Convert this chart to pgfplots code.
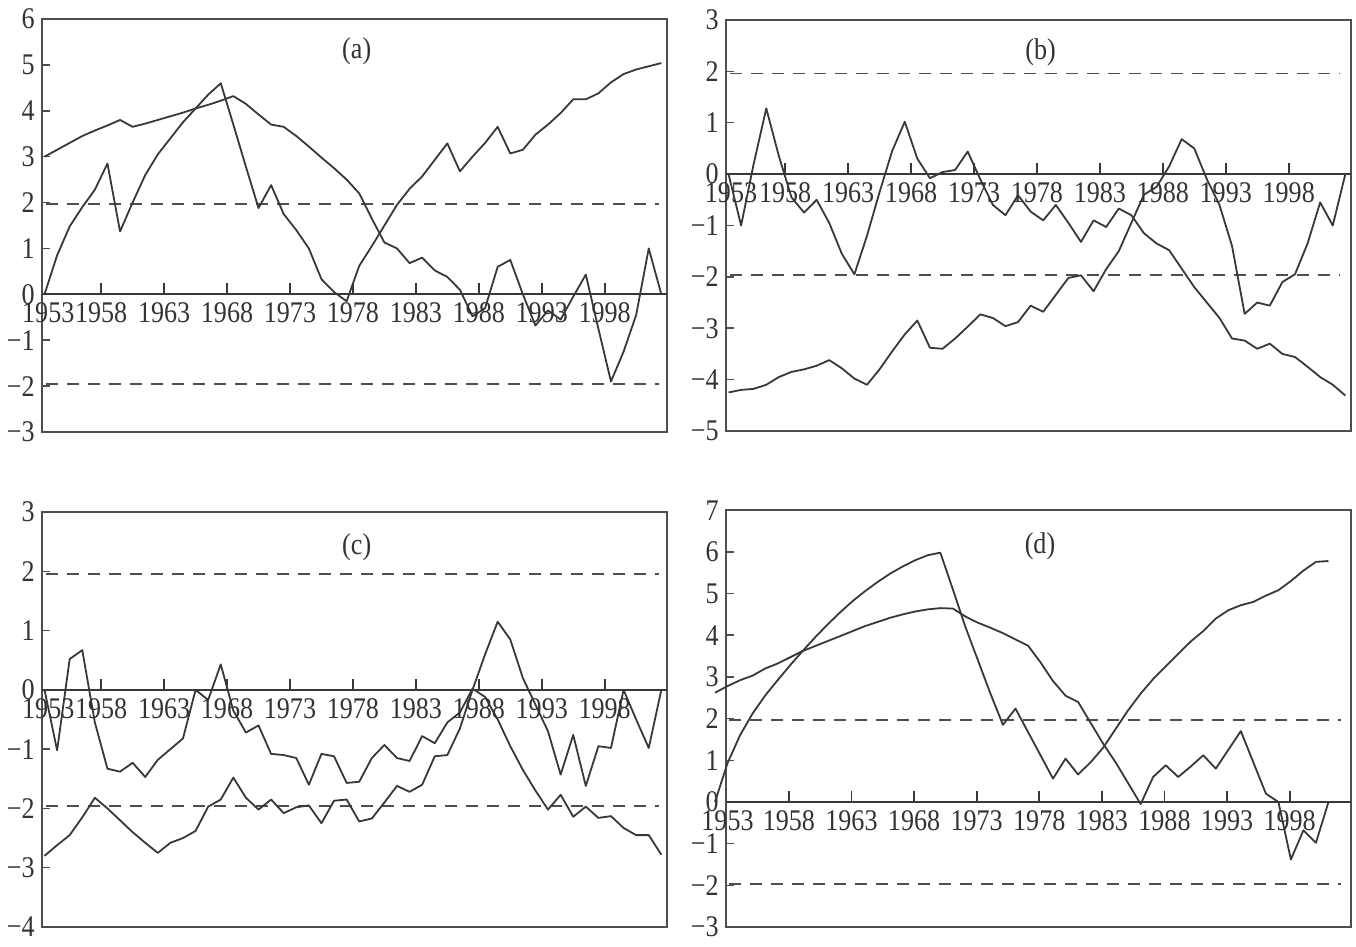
\documentclass[border=0pt]{standalone}
\usepackage{fontspec}
\setmainfont{Liberation Serif}
\newfontfamily\tkfont[FakeStretch=0.87]{Liberation Serif}
\usepackage{pgfplots}
\usepackage{pgfplotstable}
\pgfplotsset{compat=1.18}
\definecolor{linec}{HTML}{383838}
\definecolor{boxc}{HTML}{4E4E4E}
\definecolor{txtc}{HTML}{333333}
\newcommand\fs{\tkfont\fontsize{15}{17}\selectfont}

\pgfplotstableread{
year uf ub
1953 0.00 3.00
1954 0.85 3.15
1955 1.48 3.30
1956 1.90 3.45
1957 2.28 3.57
1958 2.85 3.68
1959 1.37 3.80
1960 2.00 3.65
1961 2.60 3.72
1962 3.05 3.80
1963 3.40 3.88
1964 3.75 3.96
1965 4.05 4.05
1966 4.35 4.13
1967 4.60 4.22
1968 3.70 4.32
1969 2.78 4.15
1970 1.88 3.92
1971 2.38 3.70
1972 1.75 3.65
1973 1.40 3.45
1974 1.00 3.22
1975 0.33 2.98
1976 0.05 2.75
1977 -0.15 2.50
1978 0.62 2.20
1979 1.05 1.65
1980 1.50 1.13
1981 1.95 1.00
1982 2.30 0.68
1983 2.57 0.80
1984 2.93 0.52
1985 3.29 0.38
1986 2.68 0.10
1987 3.00 -0.48
1988 3.30 -0.30
1989 3.65 0.60
1990 3.07 0.75
1991 3.15 0.00
1992 3.48 -0.68
1993 3.70 -0.35
1994 3.95 -0.55
1995 4.25 -0.05
1996 4.25 0.43
1997 4.38 -0.75
1998 4.62 -1.90
1999 4.80 -1.25
2000 4.90 -0.45
2001 4.97 1.00
2002 5.04 0.00
}\dataA

\pgfplotstableread{
year uf ub
1953 0.00 -4.25
1954 -1.00 -4.20
1955 0.20 -4.18
1956 1.28 -4.10
1957 0.35 -3.95
1958 -0.45 -3.85
1959 -0.75 -3.80
1960 -0.50 -3.73
1961 -0.95 -3.62
1962 -1.55 -3.78
1963 -1.95 -3.98
1964 -1.20 -4.10
1965 -0.35 -3.80
1966 0.45 -3.45
1967 1.02 -3.12
1968 0.30 -2.85
1969 -0.08 -3.38
1970 0.04 -3.40
1971 0.08 -3.20
1972 0.44 -2.97
1973 -0.10 -2.73
1974 -0.60 -2.80
1975 -0.80 -2.96
1976 -0.41 -2.88
1977 -0.73 -2.56
1978 -0.90 -2.68
1979 -0.60 -2.35
1980 -0.95 -2.02
1981 -1.32 -1.97
1982 -0.90 -2.28
1983 -1.03 -1.85
1984 -0.67 -1.50
1985 -0.80 -0.95
1986 -1.15 -0.40
1987 -1.35 -0.25
1988 -1.48 0.15
1989 -1.84 0.68
1990 -2.20 0.50
1991 -2.50 -0.10
1992 -2.80 -0.60
1993 -3.20 -1.40
1994 -3.24 -2.72
1995 -3.40 -2.50
1996 -3.30 -2.56
1997 -3.50 -2.10
1998 -3.56 -1.95
1999 -3.75 -1.35
2000 -3.95 -0.55
2001 -4.10 -1.00
2002 -4.31 0.00
}\dataB

\pgfplotstableread{
year uf ub
1953 0.00 -2.80
1954 -1.02 -2.62
1955 0.52 -2.45
1956 0.67 -2.15
1957 -0.55 -1.82
1958 -1.33 -2.00
1959 -1.38 -2.20
1960 -1.23 -2.40
1961 -1.47 -2.58
1962 -1.18 -2.75
1963 -1.00 -2.58
1964 -0.82 -2.50
1965 0.00 -2.38
1966 -0.17 -1.97
1967 0.43 -1.85
1968 -0.35 -1.48
1969 -0.72 -1.82
1970 -0.60 -2.02
1971 -1.08 -1.85
1972 -1.10 -2.08
1973 -1.15 -1.98
1974 -1.60 -1.95
1975 -1.08 -2.25
1976 -1.12 -1.87
1977 -1.57 -1.85
1978 -1.55 -2.22
1979 -1.15 -2.17
1980 -0.93 -1.90
1981 -1.15 -1.62
1982 -1.20 -1.72
1983 -0.78 -1.60
1984 -0.90 -1.12
1985 -0.55 -1.10
1986 -0.38 -0.65
1987 0.02 0.00
1988 -0.12 0.60
1989 -0.50 1.15
1990 -0.95 0.85
1991 -1.35 0.20
1992 -1.70 -0.25
1993 -2.02 -0.70
1994 -1.77 -1.43
1995 -2.14 -0.76
1996 -1.97 -1.62
1997 -2.16 -0.95
1998 -2.13 -0.98
1999 -2.33 0.00
2000 -2.45 -0.50
2001 -2.45 -0.98
2002 -2.78 0.00
}\dataC

\pgfplotstableread{
year uf ub
1953 0.00 2.62
1954 0.93 2.78
1955 1.60 2.92
1956 2.12 3.03
1957 2.55 3.20
1958 2.92 3.32
1959 3.28 3.47
1960 3.62 3.62
1961 3.95 3.74
1962 4.26 3.86
1963 4.55 3.98
1964 4.82 4.10
1965 5.06 4.22
1966 5.28 4.32
1967 5.48 4.42
1968 5.65 4.50
1969 5.80 4.57
1970 5.92 4.62
1971 5.98 4.65
1972 5.10 4.64
1973 4.20 4.45
1974 3.40 4.30
1975 2.60 4.18
1976 1.85 4.05
1977 2.24 3.90
1978 1.68 3.75
1979 1.12 3.35
1980 0.56 2.90
1981 1.04 2.55
1982 0.66 2.40
1983 0.95 1.90
1984 1.30 1.40
1985 1.75 0.95
1986 2.20 0.45
1987 2.60 -0.05
1988 2.95 0.60
1989 3.25 0.88
1990 3.55 0.60
1991 3.85 0.85
1992 4.10 1.12
1993 4.40 0.80
1994 4.60 1.25
1995 4.72 1.70
1996 4.80 0.95
1997 4.95 0.20
1998 5.08 0.00
1999 5.30 -1.38
2000 5.55 -0.68
2001 5.76 -0.98
2002 5.78 0.00
}\dataD

% tick marks on the zero line (x, top of tick); drawn as separate segments
\pgfplotstableread{
x y
1957.5 0
1957.5 1
1960 nan
1962.5 0
1962.5 1
1965 nan
1967.5 0
1967.5 1
1970 nan
1972.5 0
1972.5 1
1975 nan
1977.5 0
1977.5 1
1980 nan
1982.5 0
1982.5 1
1985 nan
1987.5 0
1987.5 1
1990 nan
1992.5 0
1992.5 1
1995 nan
1997.5 0
1997.5 1
}\ticksABC

\pgfplotsset{
  mkbox/.style={
    scale only axis, width=312.5pt, anchor=south west, clip=false,
    unbounded coords=jump,
    axis line style={draw=boxc, line width=0.8pt},
    xtick=\empty,
    ytick pos=left, tick align=inside, major tick length=4pt,
    tick style={draw=boxc, line width=0.75pt},
    yticklabel style={font=\fs, text=txtc, inner sep=1pt, xshift=-2.5pt},
  },
  mkzero/.style={
    scale only axis, width=312.5pt, anchor=south west, clip=false,
    axis x line*=middle, axis y line=none,
    x axis line style={draw=linec, line width=0.85pt, -},
    ytick=\empty,
    major tick length=0pt,
    xtick style={draw=none},
    xticklabel style={font=\fs, text=txtc, inner sep=1pt, yshift=-3pt},
    xticklabels={1958,1963,1968,1973,1978,1983,1988,1993,1998},
    extra x tick style={major tick length=0pt},
    extra x tick labels={1953},
  },
  ser/.style={draw=linec, line width=0.9pt, no marks, line join=round},
  ref/.style={draw=boxc, line width=0.9pt, dash pattern=on 6pt off 4.5pt},
  tk/.style={draw=linec, line width=0.85pt, no marks},
}

\begin{document}
\begin{tikzpicture}
\useasboundingbox (0,0) rectangle (678pt,473.5pt);

% ---------- (a)
\begin{axis}[mkbox, at={(21pt,257.5pt)}, height=206.5pt,
  xmin=1952.8, xmax=2002.45, ymin=-3, ymax=6,
  ytick={-3,...,6}, yticklabels={−3,−2,−1,0,1,2,3,4,5,6}]
  \addplot[ref] coordinates {(1953.1,1.96) (2001.8,1.96)};
  \addplot[ref] coordinates {(1953.1,-1.96) (2001.8,-1.96)};
  \addplot[tk] table[x=x, y expr=0.24*\thisrow{y}]{\ticksABC};
  \addplot[ser] table[x=year,y=uf]{\dataA};
  \addplot[ser] table[x=year,y=ub]{\dataA};
  \node[font=\fs, text=txtc] at (axis cs:1977.8,5.3) {(a)};
\end{axis}
\begin{axis}[mkzero, at={(21pt,257.5pt)}, height=206.5pt,
  xmin=1952.8, xmax=2002.45, ymin=-3, ymax=6,
  xtick={1957.5,1962.5,1967.5,1972.5,1977.5,1982.5,1987.5,1992.5,1997.5},
  extra x ticks={1953.3}]
  \addplot[draw=none] coordinates {(1960,0)};
\end{axis}

% ---------- (b)
\begin{axis}[mkbox, at={(363pt,258pt)}, height=205.5pt,
  xmin=1952.8, xmax=2002.45, ymin=-5, ymax=3,
  ytick={-5,...,3}, yticklabels={−5,−4,−3,−2,−1,0,1,2,3}]
  \addplot[ref] coordinates {(1953.1,1.96) (2001.6,1.96)};
  \addplot[ref] coordinates {(1953.1,-1.96) (2001.6,-1.96)};
  \addplot[tk] table[x=x, y expr=0.21*\thisrow{y}]{\ticksABC};
  \addplot[ser] table[x=year,y=uf]{\dataB};
  \addplot[ser] table[x=year,y=ub]{\dataB};
  \node[font=\fs, text=txtc] at (axis cs:1977.8,2.38) {(b)};
\end{axis}
\begin{axis}[mkzero, at={(363pt,258pt)}, height=205.5pt,
  xmin=1952.8, xmax=2002.45, ymin=-5, ymax=3,
  xtick={1957.5,1962.5,1967.5,1972.5,1977.5,1982.5,1987.5,1992.5,1997.5},
  extra x ticks={1953.2}]
  \addplot[draw=none] coordinates {(1960,0)};
\end{axis}

% ---------- (c)
\begin{axis}[mkbox, at={(21pt,10pt)}, height=207.5pt,
  xmin=1952.8, xmax=2002.45, ymin=-4, ymax=3,
  ytick={-4,...,3}, yticklabels={−4,−3,−2,−1,0,1,2,3}]
  \addplot[ref] coordinates {(1953.1,1.96) (2001.8,1.96)};
  \addplot[ref] coordinates {(1953.1,-1.96) (2001.8,-1.96)};
  \addplot[tk] table[x=x, y expr=0.185*\thisrow{y}]{\ticksABC};
  \addplot[ser] table[x=year,y=uf]{\dataC};
  \addplot[ser] table[x=year,y=ub]{\dataC};
  \node[font=\fs, text=txtc] at (axis cs:1977.8,2.4) {(c)};
\end{axis}
\begin{axis}[mkzero, at={(21pt,10pt)}, height=207.5pt,
  xmin=1952.8, xmax=2002.45, ymin=-4, ymax=3,
  xtick={1957.5,1962.5,1967.5,1972.5,1977.5,1982.5,1987.5,1992.5,1997.5},
  extra x ticks={1953.3}]
  \addplot[draw=none] coordinates {(1960,0)};
\end{axis}

% ---------- (d)
\begin{axis}[mkbox, at={(363pt,10pt)}, height=208.4pt,
  xmin=1953.88, xmax=2003.8, ymin=-3, ymax=7,
  ytick={-3,...,7}, yticklabels={−3,−2,−1,0,1,2,3,4,5,6,7}]
  \addplot[ref] coordinates {(1954.1,1.96) (2003.0,1.96)};
  \addplot[ref] coordinates {(1954.1,-1.96) (2003.0,-1.96)};
  \addplot[tk] table[x expr=\thisrow{x}+1.4, y expr=0.26*\thisrow{y}]{\ticksABC};
  \addplot[ser] table[x=year,y=uf]{\dataD};
  \addplot[ser] table[x=year,y=ub]{\dataD};
  \node[font=\fs, text=txtc] at (axis cs:1978.96,6.14) {(d)};
\end{axis}
\begin{axis}[mkzero, at={(363pt,10pt)}, height=208.4pt,
  xmin=1953.88, xmax=2003.8, ymin=-3, ymax=7,
  xtick={1958.9,1963.9,1968.9,1973.9,1978.9,1983.9,1988.9,1993.9,1998.9},
  extra x ticks={1954.0}]
  \addplot[draw=none] coordinates {(1960,0)};
\end{axis}
\end{tikzpicture}
\end{document}
